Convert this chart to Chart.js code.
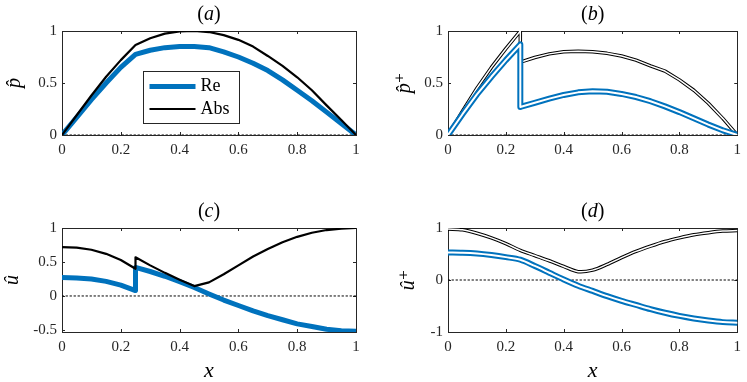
<!DOCTYPE html>
<html>
<head>
<meta charset="utf-8">
<script src="https://cdn.jsdelivr.net/npm/chart.js@4.4.0/dist/chart.umd.min.js"></script>
<style>
  html, body { margin: 0; padding: 0; background: #fff; }
  body { width: 747px; height: 382px; position: relative; overflow: hidden; }
  canvas { position: absolute; }
</style>
</head>
<body>
<canvas id="pa" width="374" height="191" style="left:0;top:0"></canvas>
<canvas id="pb" width="373" height="191" style="left:374px;top:0"></canvas>
<canvas id="pc" width="374" height="191" style="left:0;top:191px"></canvas>
<canvas id="pd" width="373" height="191" style="left:374px;top:191px"></canvas>
<script>
// x positions (the jump at x = 0.25 appears twice)
const xs = [0, 0.05, 0.1, 0.15, 0.2, 0.25, 0.3, 0.35, 0.4, 0.45, 0.5, 0.55, 0.6, 0.65, 0.7, 0.75, 0.8, 0.85, 0.9, 0.95, 1];
const xsJump = [0, 0.05, 0.1, 0.15, 0.2, 0.25, 0.25, 0.3, 0.35, 0.4, 0.45, 0.5, 0.55, 0.6, 0.65, 0.7, 0.75, 0.8, 0.85, 0.9, 0.95, 1];
const zeroX = [0, 1];
const zeroY = [0, 0];

// (a) p hat
const aRe = [0, 0.17, 0.34, 0.50, 0.65, 0.776, 0.815, 0.84, 0.852, 0.852, 0.84, 0.80, 0.75, 0.69, 0.62, 0.53, 0.43, 0.33, 0.22, 0.11, 0];
const aAbs = [0, 0.19, 0.38, 0.56, 0.72, 0.865, 0.93, 0.975, 0.995, 1.0, 0.99, 0.96, 0.915, 0.85, 0.76, 0.665, 0.555, 0.43, 0.285, 0.145, 0];

// (b) p hat plus
const bRe = [0, 0.2, 0.39, 0.56, 0.72, 0.87, 0.27, 0.31, 0.35, 0.385, 0.41, 0.42, 0.415, 0.395, 0.365, 0.325, 0.275, 0.22, 0.16, 0.10, 0.045, 0];
const bAbs = [0, 0.23, 0.45, 0.65, 0.83, 1.0, 0.70, 0.745, 0.78, 0.80, 0.805, 0.80, 0.785, 0.76, 0.72, 0.665, 0.615, 0.53, 0.43, 0.305, 0.16, 0];

// (c) u hat
const cRe = [0.27, 0.265, 0.25, 0.215, 0.16, 0.08, 0.42, 0.36, 0.29, 0.21, 0.125, 0.03, -0.06, -0.14, -0.22, -0.29, -0.35, -0.41, -0.45, -0.49, -0.51, -0.52];
const cAbs = [0.72, 0.71, 0.68, 0.62, 0.53, 0.40, 0.57, 0.45, 0.34, 0.24, 0.145, 0.20, 0.32, 0.45, 0.58, 0.69, 0.79, 0.87, 0.93, 0.97, 0.99, 1.0];

// (d) u hat plus
const dRe = [0.53, 0.525, 0.51, 0.48, 0.44, 0.39, 0.27, 0.14, 0.01, -0.11, -0.21, -0.31, -0.40, -0.48, -0.56, -0.63, -0.69, -0.74, -0.78, -0.81, -0.82];
const dAbs = [0.98, 0.965, 0.90, 0.81, 0.70, 0.57, 0.47, 0.37, 0.26, 0.16, 0.19, 0.30, 0.43, 0.55, 0.65, 0.74, 0.81, 0.87, 0.91, 0.94, 0.95];

// ticks
const xTicks = [0, 0.2, 0.4, 0.6, 0.8, 1];
const yTicksTop = [0, 0.5, 1];
const yTicksC = [-0.5, 0, 0.5, 1];
const yTicksD = [-1, 0, 1];

const BLUE = "#0072BD";
const INK = "#262626";
const SERIF = "\"Liberation Serif\", \"DejaVu Serif\", serif";

const pts = (xArr, yArr) => xArr.map((x, i) => ({x: x, y: yArr[i]}));

function line(data, color, width, order, tension) {
  return {data: data, borderColor: color, borderWidth: width, order: order, tension: tension || 0};
}

// coloured line with a white core on top
function doubleLine(data, color, outer, inner, order, tension) {
  return [line(data, "#ffffff", inner, order, tension), line(data, color, outer, order + 0.5, tension)];
}

function zeroLine() {
  return {data: pts(zeroX, zeroY), borderColor: "#000", borderWidth: 1, borderDash: [1.5, 2.5], order: 10};
}

// box, inside ticks, panel letter and legend
const panelDecor = {
  id: "panelDecor",
  beforeDatasetsDraw(chart) {
    const {ctx, chartArea: a, scales} = chart;
    ctx.save();
    ctx.strokeStyle = INK;
    ctx.lineWidth = 1;
    ctx.strokeRect(Math.round(a.left) + 0.5, Math.round(a.top) + 0.5, Math.round(a.width), Math.round(a.height));
    ctx.beginPath();
    scales.x.ticks.forEach((t) => {
      const px = Math.round(scales.x.getPixelForValue(t.value)) + 0.5;
      ctx.moveTo(px, a.bottom); ctx.lineTo(px, a.bottom - 3);
      ctx.moveTo(px, a.top); ctx.lineTo(px, a.top + 3);
    });
    scales.y.ticks.forEach((t) => {
      const py = Math.round(scales.y.getPixelForValue(t.value)) + 0.5;
      ctx.moveTo(a.left, py); ctx.lineTo(a.left + 3, py);
      ctx.moveTo(a.right, py); ctx.lineTo(a.right - 3, py);
    });
    ctx.stroke();
    ctx.restore();
  },
  afterDraw(chart, args, opts) {
    const {ctx, chartArea: a} = chart;
    ctx.save();
    ctx.fillStyle = "#000";
    ctx.textBaseline = "middle";
    ctx.textAlign = "left";
    const parts = [["(", "20px " + SERIF], [opts.letter, "italic 20px " + SERIF], [")", "20px " + SERIF]];
    let w = 0;
    parts.forEach((p) => { ctx.font = p[1]; w += ctx.measureText(p[0]).width; });
    let x = (a.left + a.right) / 2 - w / 2;
    parts.forEach((p) => {
      ctx.font = p[1];
      ctx.fillText(p[0], x, a.top - 16.5);
      x += ctx.measureText(p[0]).width;
    });

    if (opts.legend) {
      const bx = Math.round(a.left + 81) + 0.5, by = Math.round(a.top + 40) + 0.5;
      ctx.fillStyle = "#fff";
      ctx.fillRect(bx, by, 96, 52);
      ctx.strokeStyle = INK;
      ctx.lineWidth = 1;
      ctx.strokeRect(bx, by, 96, 52);
      ctx.font = "18px " + SERIF;
      opts.legend.forEach((label, i) => {
        const ds = chart.data.datasets.find((d) => d.label === label);
        const y = by + 15 + i * 22.5;
        ctx.strokeStyle = ds.borderColor;
        ctx.lineWidth = ds.borderWidth;
        ctx.beginPath();
        ctx.moveTo(bx + 6, y);
        ctx.lineTo(bx + 52, y);
        ctx.stroke();
        ctx.fillStyle = "#000";
        ctx.fillText(label, bx + 57, y);
      });
    }
    ctx.restore();
  }
};

function makePanel(id, p) {
  const tickFont = {family: SERIF, size: 15};
  const xScale = {
    type: "linear",
    min: 0,
    max: 1,
    afterBuildTicks: (s) => { s.ticks = xTicks.map((v) => ({value: v})); },
    afterFit: (s) => { s.height = p.xHeight; },
    grid: {display: false, drawTicks: false},
    border: {display: false},
    ticks: {padding: 6, font: tickFont, color: INK, callback: (v) => String(v), maxRotation: 0}
  };
  if (p.xTitle) {
    xScale.title = {display: true, text: p.xTitle, color: "#000",
      font: {family: SERIF, size: 22, style: "italic", lineHeight: 1}, padding: {top: 0, bottom: 0}};
  }
  const yScale = {
    type: "linear",
    min: p.yMin,
    max: p.yMax,
    afterBuildTicks: (s) => { s.ticks = p.yTicks.map((v) => ({value: v})); },
    afterFit: (s) => { s.width = p.yWidth; },
    grid: {display: false, drawTicks: false},
    border: {display: false},
    ticks: {padding: 5, font: tickFont, color: INK, callback: (v) => String(v)},
    title: {display: true, text: p.yTitle, color: "#000",
      font: {family: SERIF, size: 20, style: "italic", lineHeight: 1.2}, padding: {top: p.yTitlePad, bottom: 0}}
  };

  return new Chart(document.getElementById(id), {
    type: "line",
    data: {datasets: p.datasets},
    options: {
      responsive: false,
      animation: false,
      devicePixelRatio: 1,
      layout: {padding: {left: 0, top: p.top, right: p.right, bottom: 0}},
      elements: {point: {radius: 0}, line: {borderJoinStyle: "round", borderCapStyle: "round"}},
      scales: {x: xScale, y: yScale},
      plugins: {
        legend: {display: false},
        tooltip: {enabled: false},
        panelDecor: {letter: p.letter, legend: p.legend}
      }
    },
    plugins: [panelDecor]
  });
}

makePanel("pa", {
  letter: "a", top: 31, right: 18, xHeight: 56, yWidth: 62, yMin: 0, yMax: 1, yTicks: yTicksTop,
  yTitle: "p\u0302", yTitlePad: 3, legend: ["Re", "Abs"],
  datasets: [
    {label: "Abs", data: pts(xs, aAbs), borderColor: "#000", borderWidth: 2.2, order: 0, tension: 0},
    {label: "Re", data: pts(xs, aRe), borderColor: BLUE, borderWidth: 5, order: 1, tension: 0},
    zeroLine()
  ]
});

makePanel("pb", {
  letter: "b", top: 31, right: 5, xHeight: 56, yWidth: 74, yMin: 0, yMax: 1, yTicks: yTicksTop,
  yTitle: "p\u0302\u207A", yTitlePad: 19,
  datasets: [
    ...doubleLine(pts(xsJump, bRe), BLUE, 6, 2, 0),
    ...doubleLine(pts(xsJump, bAbs), "#000", 3.5, 1.5, 2),
    zeroLine()
  ]
});

makePanel("pc", {
  letter: "c", top: 37, right: 18, xHeight: 50, yWidth: 62, yMin: -0.53, yMax: 1, yTicks: yTicksC,
  yTitle: "\u00FB", yTitlePad: 1, xTitle: "x",
  datasets: [
    line(pts(xsJump, cAbs), "#000", 2.2, 0),
    line(pts(xsJump, cRe), BLUE, 5, 1),
    zeroLine()
  ]
});

makePanel("pd", {
  letter: "d", top: 37, right: 5, xHeight: 50, yWidth: 74, yMin: -1, yMax: 1, yTicks: yTicksD,
  yTitle: "\u00FB\u207A", yTitlePad: 23, xTitle: "x",
  datasets: [
    ...doubleLine(pts(xs, dRe), BLUE, 6, 2, 0, 0.3),
    ...doubleLine(pts(xs, dAbs), "#000", 3.5, 1.5, 2, 0.3),
    zeroLine()
  ]
});
</script>
</body>
</html>
